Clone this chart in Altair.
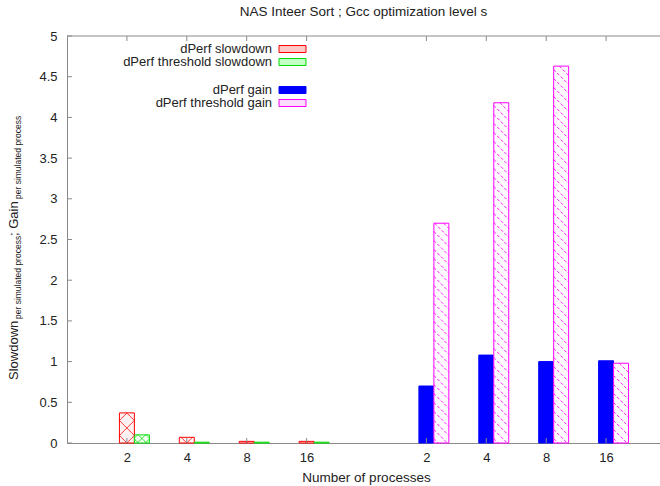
import altair as alt
import pandas as pd

# ---- data ----
processes = ["2", "4", "8", "16"]
dperf_slowdown = [0.37, 0.07, 0.02, 0.02]
threshold_slowdown = [0.10, 0.01, 0.01, 0.01]
dperf_gain = [0.70, 1.08, 1.00, 1.01]
threshold_gain = [2.70, 4.18, 4.63, 0.98]

series_names = ["dPerf slowdown", "dPerf threshold slowdown", "dPerf gain", "dPerf threshold gain"]
series_groups = ["slowdown", "slowdown", "gain", "gain"]
series_values = [dperf_slowdown, threshold_slowdown, dperf_gain, threshold_gain]
y_tick_values = [0, 0.5, 1, 1.5, 2, 2.5, 3, 3.5, 4, 4.5, 5]
chart_title = "NAS Inteer Sort ; Gcc optimization level s"
x_title = "Number of processes"

# ---- styles ----
bar_fills = ["#fff2f2", "#f2fff2", "#0000ff", "#fffaff"]
swatch_fills = ["#ffc6c6", "#c6ffc6", "#0000ff", "#fcdcfc"]
strokes = ["#ff0000", "#00dd00", "#0000ff", "#ff00ff"]
hatch_colors = ["#ff4d4d", "#33dd33", "#0000ff", "#ff9cff"]
# hatch pattern: (spacing px, directions)
hatch_styles = [(15, ("\\", "/")), (8, ("\\", "/")), None, (9, ("\\",))]

W, H = 593, 407
XMAX, YMAX = 9.9, 5.0
UX, UY = W / XMAX, H / YMAX
BAR_W = 0.25
GRAY = "#8a8a8a"
TXT = "#222222"
FONT = "Liberation Sans"

rows, hatch_rows = [], []
for si, (name, grp, vals) in enumerate(zip(series_names, series_groups, series_values)):
    slot = 0 if si in (0, 2) else 1
    for pi, (p, v) in enumerate(zip(processes, vals)):
        rows.append({"series": name, "group": grp, "slot": slot, "proc": p, "value": v})
        style = hatch_styles[si]
        if style is None:
            continue
        spacing, dirs = style
        pos = pi + 1 + (5 if grp == "gain" else 0)
        xl = pos - BAR_W / 2 + slot * BAR_W
        w_px, h_px = BAR_W * UX, v * UY
        for d in dirs:
            if d == "\\":
                c = spacing / 2
                while c < h_px + w_px:
                    xs, xe = max(0.0, c - h_px), min(w_px, c)
                    if xe - xs > 0.5:
                        hatch_rows.append({"series": name, "x": xl + xs / UX, "x2": xl + xe / UX,
                                           "y": (c - xs) / UY, "y2": (c - xe) / UY})
                    c += spacing
            else:
                c = -w_px + spacing / 2
                while c < h_px:
                    xs, xe = max(0.0, -c), min(w_px, h_px - c)
                    if xe - xs > 0.5:
                        hatch_rows.append({"series": name, "x": xl + xs / UX, "x2": xl + xe / UX,
                                           "y": (c + xs) / UY, "y2": (c + xe) / UY})
                    c += spacing
df = pd.DataFrame(rows)
hdf = pd.DataFrame(hatch_rows)

proc_js = "[" + ",".join("'%s'" % p for p in processes) + "]"
tick_positions = [i + 1 for i in range(len(processes))] + [i + 6 for i in range(len(processes))]
label_js = "{" + ",".join("'%d':'%s'" % (pos, lab) for pos, lab in zip(tick_positions, processes + processes)) + "}"

xscale = alt.Scale(domain=[0, XMAX], nice=False, zero=False)
yscale = alt.Scale(domain=[0, YMAX], nice=False)

base = alt.Chart(df).transform_calculate(
    pos=f"indexof({proc_js}, datum.proc) + 1 + (datum.group == 'gain' ? 5 : 0)"
).transform_calculate(
    x0=f"datum.pos - {BAR_W/2} + datum.slot * {BAR_W}",
    x1=f"datum.pos + {BAR_W/2} + datum.slot * {BAR_W}",
)

bars = base.mark_rect(strokeWidth=1).encode(
    x=alt.X("x0:Q", scale=xscale,
            axis=alt.Axis(values=tick_positions, labelExpr=f"{label_js}[''+datum.value]",
                          tickSize=0, domainColor=GRAY, labelFontSize=13, labelColor=TXT,
                          labelPadding=8, grid=False, title=x_title, titleFontSize=13.5,
                          titleFontWeight="normal", titleColor=TXT, titlePadding=6,
                          titleX=299)),
    x2="x1:Q",
    y=alt.Y("value:Q", scale=yscale,
            axis=alt.Axis(values=y_tick_values, format="~g", tickSize=0, domainColor=GRAY,
                          labelFontSize=13, labelColor=TXT, labelPadding=10, grid=False,
                          title=None)),
    y2=alt.datum(0),
    fill=alt.Fill("series:N", scale=alt.Scale(domain=series_names, range=bar_fills), legend=None),
    stroke=alt.Stroke("series:N", scale=alt.Scale(domain=series_names, range=strokes), legend=None),
)

hatch = alt.Chart(hdf).mark_rule(strokeWidth=0.9).encode(
    x=alt.X("x:Q", scale=xscale), x2="x2:Q",
    y=alt.Y("y:Q", scale=yscale), y2="y2:Q",
    stroke=alt.Stroke("series:N", scale=alt.Scale(domain=series_names, range=hatch_colors), legend=None),
    strokeDash=alt.condition(alt.datum.series == "dPerf threshold gain",
                             alt.value([3, 2]), alt.value([1, 0])),
)

one = pd.DataFrame({"a": [0]})

# inward ticks (gnuplot style)
ytick_df = pd.DataFrame({"v": y_tick_values})
yticks = alt.Chart(ytick_df).mark_rule(color=GRAY).encode(
    y=alt.Y("v:Q", scale=yscale), x=alt.value(0), x2=alt.value(5)
)
xtick_df = pd.DataFrame({"p": tick_positions})
xticks_bot = alt.Chart(xtick_df).mark_rule(color=GRAY).encode(
    x=alt.X("p:Q", scale=xscale), y=alt.value(H), y2=alt.value(H - 5)
)
xticks_top = alt.Chart(xtick_df).mark_rule(color=GRAY).encode(
    x=alt.X("p:Q", scale=xscale), y=alt.value(0), y2=alt.value(5)
)
top_line = alt.Chart(one).mark_rule(color=GRAY).encode(
    x=alt.value(0), x2=alt.value(W), y=alt.value(0)
)

# legend (labels left of swatches, as in gnuplot)
leg_rows_y = [13, 26, 54, 67]
leg_layers = []
for name, ly, f, s in zip(series_names, leg_rows_y, swatch_fills, strokes):
    leg_layers.append(
        alt.Chart(one).mark_text(align="right", baseline="middle", fontSize=13,
                                 color=TXT, font=FONT, text=name).encode(
            x=alt.value(205), y=alt.value(ly))
    )
    leg_layers.append(
        alt.Chart(one).mark_rect(fill=f, stroke=s, strokeWidth=1).encode(
            x=alt.value(212), x2=alt.value(239), y=alt.value(ly - 3.5), y2=alt.value(ly + 3.5))
    )

# y title with subscripts
ytitle_parts = [
    ("Slowdown", 13, 344, -49),
    ("per simulated process", 8.5, 283, -46),
    (" ; Gain", 13, 200, -49),
    ("per simulated process", 8.5, 163, -46),
]
ytitle_layers = [
    alt.Chart(one).mark_text(align="left", baseline="alphabetic", angle=270,
                             fontSize=fs, color=TXT, font=FONT, text=t).encode(
        x=alt.value(xx), y=alt.value(yy))
    for t, fs, yy, xx in ytitle_parts
]

chart = alt.layer(bars, hatch, yticks, xticks_bot, xticks_top, top_line,
                  *leg_layers, *ytitle_layers).properties(
    width=W, height=H,
    title=alt.TitleParams(chart_title, fontSize=13.5, fontWeight="normal", color=TXT,
                          anchor="middle", frame="group", offset=12),
    autosize=alt.AutoSizeParams(type="none"),
    padding={"left": 67, "top": 36, "right": 0, "bottom": 43},
).configure(font=FONT).configure_view(strokeWidth=0)

chart.save("out.html", embed_options={"renderer": "svg", "actions": False})
